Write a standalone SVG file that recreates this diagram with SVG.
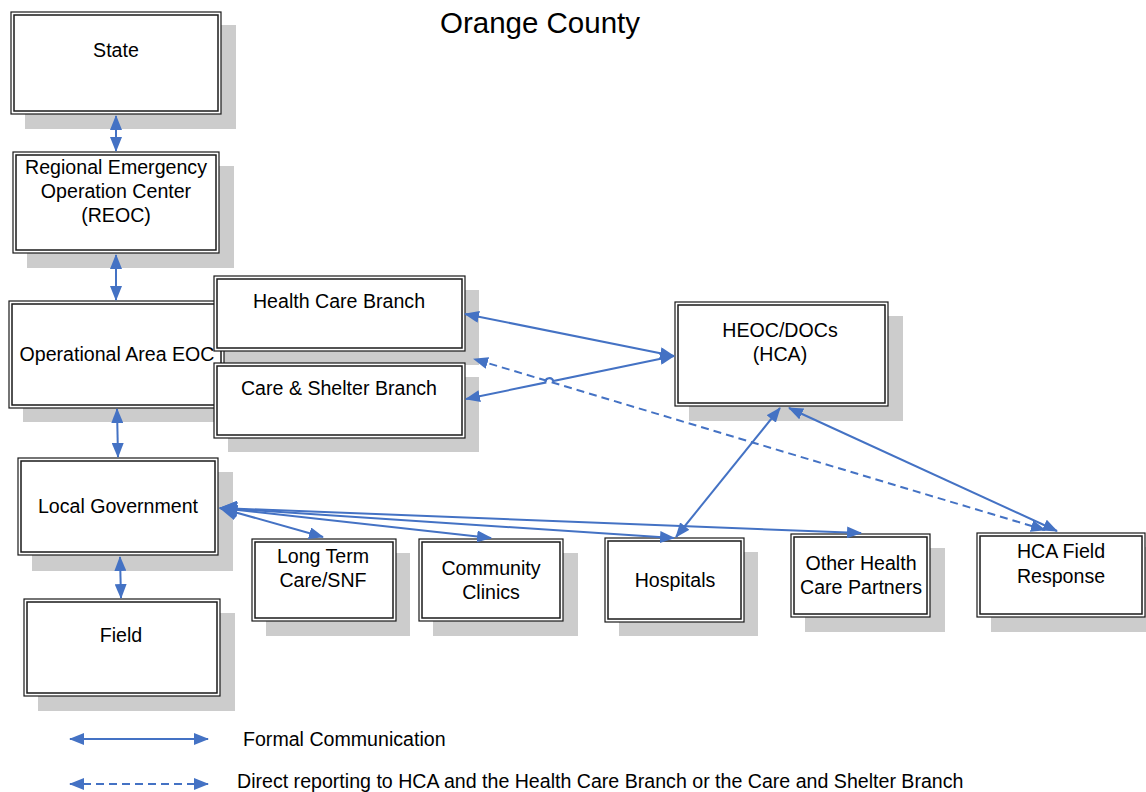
<svg xmlns="http://www.w3.org/2000/svg" width="1146" height="792" viewBox="0 0 1146 792">
<defs>
<style>
.sh{fill:#cccccc;stroke:none}
.o{fill:#ffffff;stroke:#1a1a1a;stroke-width:1.2}
.i{fill:none;stroke:#1a1a1a;stroke-width:1.5}
text{font-family:"Liberation Sans",Arial,sans-serif;font-size:19.6px;fill:#000;text-anchor:middle}
.c{fill:none;stroke:#4472C4;stroke-width:2;marker-start:url(#ah);marker-end:url(#ah)}
.d{stroke-dasharray:8,5}
</style>
<marker id="ah" viewBox="0 0 15 12" refX="14" refY="6" markerWidth="15" markerHeight="12" markerUnits="userSpaceOnUse" orient="auto-start-reverse">
<path d="M0,0 L15,6 L0,12 z" fill="#4472C4"/>
</marker>
<marker id="ahL" viewBox="0 0 18 16" refX="17" refY="8" markerWidth="18" markerHeight="16" markerUnits="userSpaceOnUse" orient="auto-start-reverse">
<path d="M0,0 L18,8 L0,16 z" fill="#4472C4"/>
</marker>
</defs>
<rect width="1146" height="792" fill="#ffffff"/>
<text x="540" y="33" style="font-size:29.5px">Orange County</text>

<g id="state">
<rect class="sh" x="25" y="25" width="211" height="104"/>
<rect class="o" x="11" y="12" width="210" height="102"/>
<rect class="i" x="14" y="15" width="204" height="96"/>
<text x="116" y="57">State</text>
</g>
<g id="reoc">
<rect class="sh" x="27" y="166" width="207" height="102"/>
<rect class="o" x="13" y="152" width="206" height="101"/>
<rect class="i" x="16" y="155" width="200" height="95"/>
<text x="116" y="174">Regional Emergency</text>
<text x="116" y="198">Operation Center</text>
<text x="116" y="222">(REOC)</text>
</g>
<g id="opeoc">
<rect class="sh" x="23" y="315" width="216" height="107"/>
<rect class="o" x="9" y="301" width="215" height="107"/>
<rect class="i" x="12" y="304" width="209" height="101"/>
<text x="117" y="361">Operational Area EOC</text>
</g>
<g id="hcb">
<rect class="sh" x="228" y="290" width="251" height="75"/>
<rect class="o" x="214" y="276" width="251" height="75"/>
<rect class="i" x="217" y="279" width="245" height="69"/>
<text x="339" y="308">Health Care Branch</text>
</g>
<g id="csb">
<rect class="sh" x="228" y="377" width="251" height="75"/>
<rect class="o" x="214" y="363" width="251" height="75"/>
<rect class="i" x="217" y="366" width="245" height="69"/>
<text x="339" y="395">Care &amp; Shelter Branch</text>
</g>
<g id="heoc">
<rect class="sh" x="689" y="316" width="214" height="105"/>
<rect class="o" x="675" y="302" width="213" height="104"/>
<rect class="i" x="678" y="305" width="207" height="98"/>
<text x="780" y="337">HEOC/DOCs</text>
<text x="780" y="361">(HCA)</text>
</g>
<g id="localgov">
<rect class="sh" x="32" y="472" width="201" height="99"/>
<rect class="o" x="18" y="458" width="200" height="97"/>
<rect class="i" x="21" y="461" width="194" height="91"/>
<text x="118" y="513">Local Government</text>
</g>
<g id="field">
<rect class="sh" x="38" y="613" width="197" height="98"/>
<rect class="o" x="24" y="599" width="196" height="97"/>
<rect class="i" x="27" y="602" width="190" height="91"/>
<text x="121" y="642">Field</text>
</g>
<g id="ltc">
<rect class="sh" x="266" y="553" width="144" height="83"/>
<rect class="o" x="252" y="539" width="144" height="82"/>
<rect class="i" x="255" y="542" width="138" height="76"/>
<text x="323" y="563">Long Term</text>
<text x="323" y="587">Care/SNF</text>
</g>
<g id="clinics">
<rect class="sh" x="433" y="553" width="145" height="83"/>
<rect class="o" x="419" y="539" width="144" height="82"/>
<rect class="i" x="422" y="542" width="138" height="76"/>
<text x="491" y="575">Community</text>
<text x="491" y="599">Clinics</text>
</g>
<g id="hospitals">
<rect class="sh" x="619" y="552" width="139" height="84"/>
<rect class="o" x="605" y="538" width="139" height="84"/>
<rect class="i" x="608" y="541" width="133" height="78"/>
<text x="675" y="587">Hospitals</text>
</g>
<g id="partners">
<rect class="sh" x="805" y="548" width="140" height="84"/>
<rect class="o" x="791" y="534" width="139" height="83"/>
<rect class="i" x="794" y="537" width="133" height="77"/>
<text x="861" y="570">Other Health</text>
<text x="861" y="594">Care Partners</text>
</g>
<g id="hcafield">
<rect class="sh" x="991" y="547" width="155" height="85"/>
<rect class="o" x="977" y="533" width="168" height="84"/>
<rect class="i" x="980" y="536" width="162" height="78"/>
<text x="1061" y="558">HCA Field</text>
<text x="1061" y="583">Response</text>
</g>

<g id="connectors">
<line class="c" x1="116" y1="116" x2="116" y2="151"/>
<line class="c" x1="116" y1="255" x2="116" y2="300"/>
<line class="c" x1="117" y1="409" x2="118" y2="457"/>
<line class="c" x1="120" y1="557" x2="121" y2="598"/>
<line class="c" x1="465" y1="314" x2="674" y2="356"/>
<path class="c" d="M674,356 L553.2,381 A4,4 0 0 0 545.4,382.6 L466,399"/>
<line class="c d" x1="1045" y1="530" x2="474" y2="359"/>
<line class="c" x1="789" y1="408" x2="1057" y2="531"/>
<line class="c" x1="780" y1="408" x2="676" y2="537"/>
<line class="c" style="marker-start:url(#ahL)" x1="220" y1="508" x2="323" y2="537"/>
<line class="c" style="marker-start:url(#ahL)" x1="220" y1="508" x2="491" y2="538"/>
<line class="c" style="marker-start:url(#ahL)" x1="220" y1="508" x2="674" y2="538"/>
<line class="c" style="marker-start:url(#ahL)" x1="220" y1="508" x2="861" y2="533"/>
<line class="c" x1="70" y1="739" x2="208" y2="739"/>
<line class="c d" x1="70" y1="784" x2="208" y2="784"/>
</g>
<text x="243" y="746" style="text-anchor:start">Formal Communication</text>
<text x="237" y="788" style="text-anchor:start">Direct reporting to HCA and the Health Care Branch or the Care and Shelter Branch</text>
</svg>
